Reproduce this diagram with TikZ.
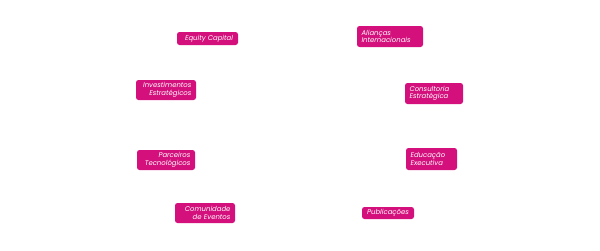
\documentclass[tikz,border=0pt]{standalone}
\usepackage{fontspec}
\setmainfont{Poppins}
\definecolor{mag}{RGB}{212,16,124}
\begin{document}
\begin{tikzpicture}[x=1pt,y=1pt,
  tag/.style={fill=mag,rounded corners=2.5pt,text=white,inner xsep=4.5pt,inner ysep=1pt,
    font=\fontsize{6.9}{7.6}\selectfont\itshape},
  tl/.style={tag,align=left},
  tr/.style={tag,align=right}]
\useasboundingbox (0,0) rectangle (600,250);
\node[tag,minimum width=61,minimum height=13] (eq) at (207.5,211.5) {\hspace{3pt}Equity Capital};
\node[tl,minimum width=66,minimum height=21,text width=57] (al) at (390,213.5) {Alianças\\Internacionais};
\node[tr,minimum width=60,minimum height=20,text width=51] (inv) at (166,160) {Investimentos\\Estratégicos};
\node[tl,minimum width=58,minimum height=21,text width=49] (con) at (434,156.5) {Consultoria\\Estratégica};
\node[tr,minimum width=58,minimum height=20,text width=49] (par) at (166,90) {Parceiros\\Tecnológicos};
\node[tl,minimum width=51,minimum height=22,text width=42] (edu) at (431.5,91) {Educação\\Executiva};
\node[tr,minimum width=60,minimum height=20,text width=51] (com) at (205,37) {Comunidade\\de Eventos};
\node[tag,minimum width=52,minimum height=12] (pub) at (388,37) {Publicações};
\end{tikzpicture}
\end{document}
